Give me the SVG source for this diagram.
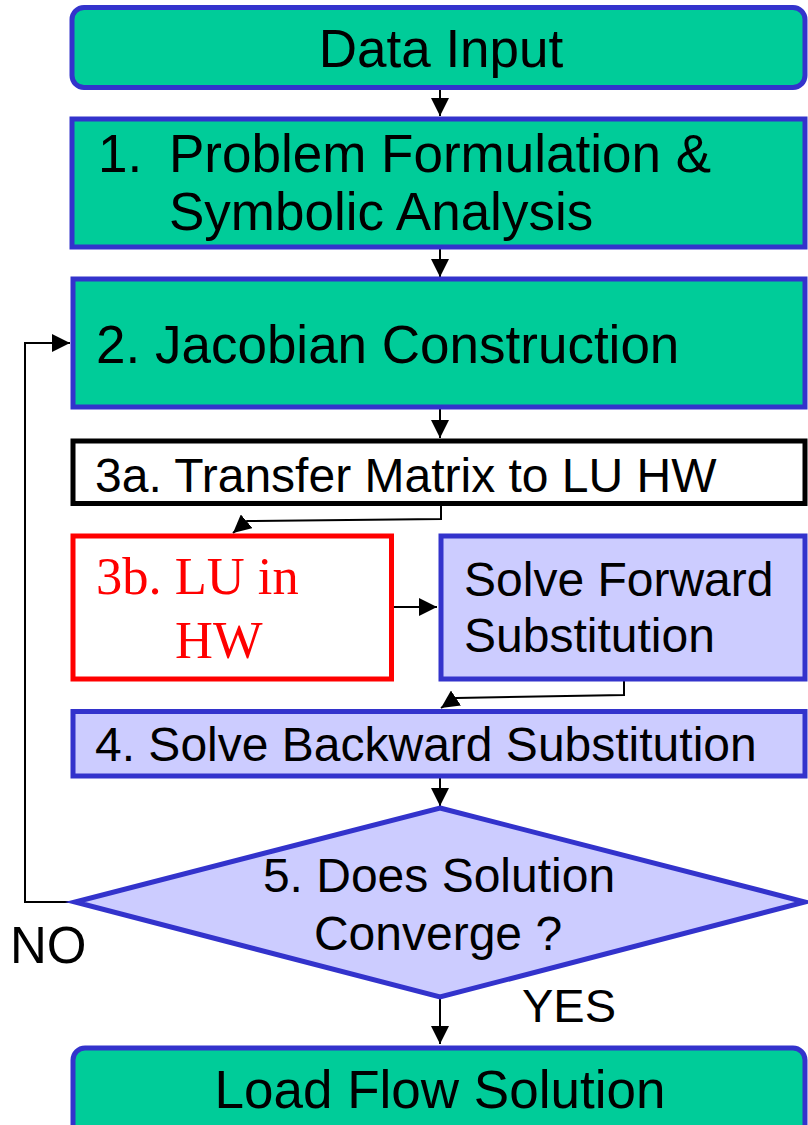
<svg xmlns="http://www.w3.org/2000/svg" width="808" height="1125" viewBox="0 0 808 1125">
<style>
.t{font-family:"Liberation Sans",Arial,sans-serif;fill:#000}
.g{fill:#00CC99;stroke:#3333CC;stroke-width:5}
.p{fill:#CCCCFF;stroke:#3333CC;stroke-width:5}
.c{fill:none;stroke:#000;stroke-width:2}
</style>
<defs>
<marker id="ah" markerUnits="userSpaceOnUse" markerWidth="18" markerHeight="18" viewBox="0 0 16 16" refX="16" refY="8" orient="auto">
<path d="M0,0 L16,8 L0,16 Z" fill="#000"/>
</marker>
</defs>
<rect width="808" height="1125" fill="#fff"/>
<g id="connectors">
<path class="c" d="M440,89 V116" marker-end="url(#ah)"/>
<path class="c" d="M440,249 V277" marker-end="url(#ah)"/>
<path class="c" d="M440,409 V438" marker-end="url(#ah)"/>
<path class="c" d="M441,505 V519 L247,521 L233,533" marker-end="url(#ah)"/>
<path class="c" d="M393,607 H437" marker-end="url(#ah)"/>
<path class="c" d="M624,681 V695 L456,698 L441,708" marker-end="url(#ah)"/>
<path class="c" d="M440,777 V806" marker-end="url(#ah)"/>
<path class="c" d="M75,902 H25 V343 H70" marker-end="url(#ah)"/>
<path class="c" d="M440,998 V1044" marker-end="url(#ah)"/>
</g>
<g id="data-input">
<rect class="g" x="72" y="7.5" width="733" height="80" rx="12"/>
<text class="t" x="441" y="67" font-size="53" text-anchor="middle">Data Input</text>
</g>
<g id="step1">
<rect class="g" x="72" y="119" width="733" height="128"/>
<text class="t" y="172" font-size="53"><tspan x="98">1.</tspan><tspan x="169">Problem Formulation &amp;</tspan></text>
<text class="t" x="169" y="230" font-size="53">Symbolic Analysis</text>
</g>
<g id="step2">
<rect class="g" x="73" y="279" width="732" height="128"/>
<text class="t" x="96" y="363" font-size="53">2. Jacobian Construction</text>
</g>
<g id="step3a">
<rect x="73" y="441" width="732" height="62.5" fill="#fff" stroke="#000" stroke-width="5"/>
<text class="t" x="95" y="492" font-size="48">3a. Transfer Matrix to LU HW</text>
</g>
<g id="step3b">
<rect x="73" y="536" width="318.5" height="143" fill="#fff" stroke="#FF0000" stroke-width="5"/>
<text x="96" y="594" font-size="52.5" fill="#FF0000" font-family="'Liberation Serif','Times New Roman',serif">3b. LU in</text>
<text x="175" y="658" font-size="52.5" fill="#FF0000" font-family="'Liberation Serif','Times New Roman',serif">HW</text>
</g>
<g id="forward">
<rect class="p" x="441" y="536" width="364" height="143"/>
<text class="t" x="464" y="596" font-size="48">Solve Forward</text>
<text class="t" x="464" y="652" font-size="48">Substitution</text>
</g>
<g id="step4">
<rect class="p" x="73" y="711.5" width="732" height="64.5"/>
<text class="t" x="95" y="761" font-size="48">4. Solve Backward Substitution</text>
</g>
<g id="step5">
<polygon class="p" points="440,808 805,902 440,997 75,902"/>
<text class="t" x="439" y="892" font-size="48" text-anchor="middle">5. Does Solution</text>
<text class="t" x="438" y="950" font-size="48" text-anchor="middle">Converge ?</text>
</g>
<g id="labels">
<text class="t" x="10" y="963" font-size="51">NO</text>
<text class="t" x="522" y="1022" font-size="47">YES</text>
</g>
<g id="load-flow">
<rect class="g" x="73" y="1048" width="732" height="95" rx="12"/>
<text class="t" x="440" y="1108" font-size="53" text-anchor="middle">Load Flow Solution</text>
</g>
</svg>
